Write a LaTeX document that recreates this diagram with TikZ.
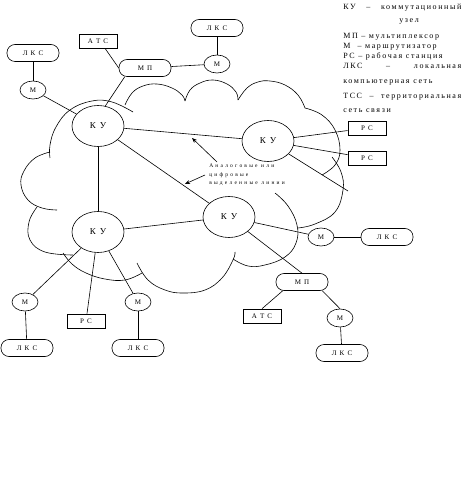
\documentclass[tikz,border=0pt]{standalone}
\usepackage{fontspec}
\setmainfont{Liberation Serif}
\newfontfamily\lsp[LetterSpace=20]{Liberation Serif}
\newfontfamily\lspw[LetterSpace=40]{Liberation Serif}
\usetikzlibrary{arrows.meta,shapes.geometric}
\begin{document}
\begin{tikzpicture}[x=1pt,y=-1pt, line width=0.6pt,
  ku/.style={draw, ellipse, minimum width=52pt, minimum height=41pt, inner sep=0pt, font=\lsp\fontsize{9}{9}\selectfont},
  mm/.style={draw, ellipse, minimum width=26pt, minimum height=18pt, inner sep=0pt, font=\lsp\fontsize{7}{7}\selectfont},
  lks/.style={draw, rectangle, rounded corners=8pt, minimum width=52pt, minimum height=17pt, inner sep=0pt, font=\lsp\fontsize{7}{7}\selectfont},
  sbox/.style={draw, rectangle, minimum width=38pt, minimum height=14pt, inner sep=0pt, font=\lsp\fontsize{7}{7}\selectfont},
  leg/.style={anchor=base west, inner sep=0pt, font=\lsp\fontsize{8}{8}\selectfont},
  cl/.style={smooth, tension=0.7},
  arr/.style={-{Stealth[length=5pt,width=4pt]}}
]
\useasboundingbox (0,0) rectangle (467,502);

% cloud
\draw plot[cl] coordinates {(133,112) (112,102) (92,101) (70,110) (56,127) (50,145) (50,158)};
\draw plot[cl] coordinates {(50,152) (35,158) (24,171) (21,185) (28,200) (42,208) (57,210)};
\draw plot[cl] coordinates {(37,207) (29,222) (30,240) (45,252) (73,255)};
\draw plot[cl] coordinates {(63,253) (72,264) (86,273) (105,279) (125,280) (142,273)};
\draw plot[cl] coordinates {(137,263) (148,280) (165,290) (183,293) (205,290) (222,278) (233,260) (235,252)};
\draw plot[cl] coordinates {(275,193) (288,206) (297,225) (296,243) (285,257) (265,265) (248,266) (233,259)};
\draw plot[cl] coordinates {(332,157) (341,172) (343,190) (335,212) (315,224) (298,228)};
\draw plot[cl] coordinates {(305,108) (322,115) (335,130) (340,150) (335,165) (322,175)};
\draw plot[cl] coordinates {(125,105) (132,93) (143,86) (157,84) (172,88) (182,95) (185,101)};
\draw plot[cl] coordinates {(185,101) (190,90) (200,83) (213,80) (227,84) (236,92) (238,100)};
\draw plot[cl] coordinates {(238,100) (247,88) (258,82) (270,81) (285,85) (298,95) (305,108)};

% nodes
\node[lks] (lks1) at (33,53) {Л К С};
\node[mm] (m1) at (33,90) {М};
\node[sbox] (atc1) at (98,41) {А Т С};
\node[lks] (mp1) at (145,68) {М П};
\node[lks] (lks2) at (217,28) {Л К С};
\node[mm] (m2) at (217,64) {М};
\node[ku] (ku1) at (98,126) {К У};
\node[ku] (ku2) at (268,141) {К У};
\node[ku] (ku3) at (229,217) {К У};
\node[ku] (ku4) at (98,232) {К У};
\node[sbox] (rs1) at (367,128) {Р С};
\node[sbox] (rs2) at (367,158) {Р С};
\coordinate (fe) at (348,191);
\node[mm] (m3) at (321,237) {М};
\node[lks] (lks3) at (387,237) {Л К С};
\node[lks] (mp2) at (302,282) {М П};
\node[sbox] (atc2) at (262,316) {А Т С};
\node[mm] (m4) at (340,318) {М};
\node[lks] (lks4) at (342,353) {Л К С};
\node[mm] (m5) at (25,302) {М};
\node[lks] (lks5) at (27,348) {Л К С};
\node[sbox] (rs3) at (86,321) {Р С};
\node[mm] (m6) at (138,302) {М};
\node[lks] (lks6) at (138,348) {Л К С};

% connectors
\draw (lks1) -- (m1);
\draw (m1) -- (ku1);
\draw ([xshift=7pt]atc1.south) -- (mp1.west);
\draw ([xshift=6pt]mp1.south west) -- (ku1.70);
\draw (mp1) -- (m2);
\draw (lks2) -- (m2);
\draw (ku1) -- (ku2);
\draw (ku1) -- (ku3);
\draw (ku1) -- (ku4);
\draw (ku4) -- (ku3);
\draw (ku2) -- (rs1);
\draw (ku2) -- (rs2);
\draw (ku2) -- (fe);
\draw (ku3) -- (m3);
\draw (m3) -- (lks3);
\draw (ku3) -- (mp2.north);
\draw ([xshift=7pt]mp2.south west) -- (atc2.north);
\draw ([xshift=-6pt]mp2.south east) -- (m4.north);
\draw (m4) -- (lks4);
\draw (ku4) -- (m5);
\draw (m5) -- (lks5);
\draw (ku4) -- (rs3);
\draw (ku4) -- (m6);
\draw (m6) -- (lks6);

% annotation
\node[anchor=north west, inner sep=0pt, align=left, font=\lspw\fontsize{5.5}{8.5}\selectfont] (lbl) at (209,164) {Аналоговые или\\цифровые\\выделенные линии};
\coordinate (a1t) at (217,162);
\coordinate (a1h) at (192,138);
\coordinate (a2t) at (205,175);
\coordinate (a2h) at (185,184);
\draw[arr] (a1t) -- (a1h);
\draw[arr] (a2t) -- (a2h);

% legend
\node[leg] (l1) at (343,10) {\makebox[118pt][l]{КУ\hfill–\hfill коммутационный}};
\node[leg, anchor=base] (l2) at (409,23) {узел};
\node[leg] (l3) at (343,39) {МП – мультиплексор};
\node[leg] (l4) at (343,49) {М \ – маршрутизатор};
\node[leg] (l5) at (343,59) {РС – рабочая станция};
\node[leg] (l6) at (343,69) {\makebox[118pt][l]{ЛКС\hfill–\hfill локальная}};
\node[leg] (l7) at (343,84) {компьютерная сеть};
\node[leg] (l8) at (343,99) {\makebox[118pt][l]{ТСС\hfill–\hfill территориальная}};
\node[leg] (l9) at (343,113) {сеть связи};
\end{tikzpicture}
\end{document}
